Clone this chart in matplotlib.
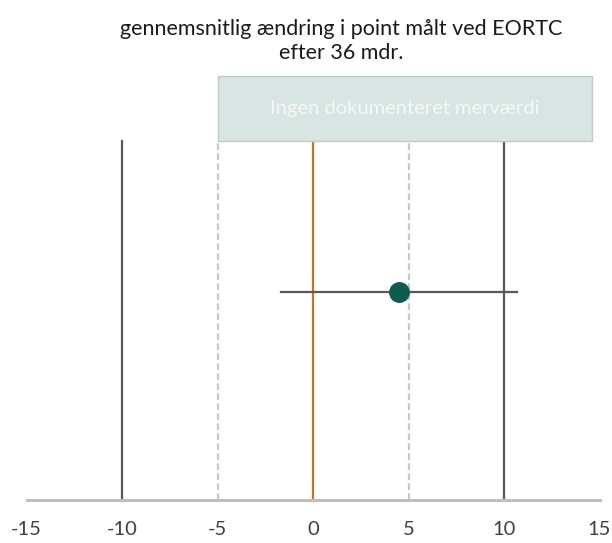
import numpy as np
import matplotlib.pyplot as plt
from matplotlib.patches import Rectangle

# data
estimate = 4.5
ci_low, ci_high = -1.7, 10.7
ref_solid = [-10, 10]
ref_zero = 0
ref_dashed = [-5, 5]
box_x = (-5, 14.6)
box_label = "Ingen dokumenteret merværdi"
xticks = [-15, -10, -5, 0, 5, 10, 15]
title = "gennemsnitlig ændring i point målt ved EORTC\nefter 36 mdr."

plt.rcParams['font.family'] = ['Lato', 'DejaVu Sans']

fig = plt.figure(figsize=(6.12, 5.43), dpi=100)
ax = fig.add_axes([26.5 / 612, 43 / 543, 573 / 612, 426 / 543])
ax.set_xlim(-15, 15)
ax.set_ylim(0, 1)

line_top = 0.843
for x in ref_solid:
    ax.plot([x, x], [0, line_top], color="#595959", lw=1.6, zorder=2)
ax.plot([ref_zero, ref_zero], [0, line_top], color="#c5712a", lw=1.6, zorder=2)
for x in ref_dashed:
    ax.plot([x, x], [0, line_top], color="#c8c8c8", lw=1.6, ls=(0, (3, 1.5)), zorder=1)

ax.add_patch(Rectangle((box_x[0], line_top), box_x[1] - box_x[0], 0.995 - line_top,
                       facecolor="#d8e5e2", edgecolor="#c4c9c8", lw=1.0, zorder=3,
                       clip_on=False))
ax.text(sum(box_x) / 2, (line_top + 0.995) / 2, box_label, color="#f4f8f7",
        fontsize=14.5, ha="center", va="center", zorder=4)

ax.plot([ci_low, ci_high], [0.488, 0.488], color="#595959", lw=1.6, zorder=4)
ax.plot([estimate], [0.488], "o", color="#0b5d50", markersize=14, zorder=5)

for s in ["top", "right", "left"]:
    ax.spines[s].set_visible(False)
ax.spines["bottom"].set_color("#bfbfbf")
ax.spines["bottom"].set_linewidth(2.2)
ax.set_yticks([])
ax.set_xticks(xticks)
ax.set_xticklabels([str(t) for t in xticks], fontsize=14.5, color="#404040")
ax.tick_params(axis="x", length=0, pad=15)

fig.text(341 / 612, 1 - 41 / 543, title, ha="center", va="center", fontsize=15.5,
         color="#1a1a1a", linespacing=1.2)

fig.savefig("out.png", dpi=100)
